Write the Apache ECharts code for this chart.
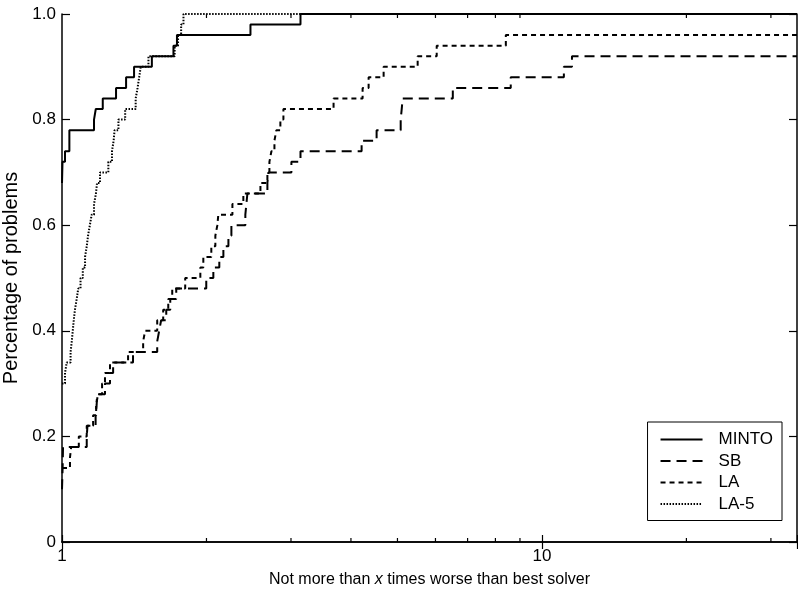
<!DOCTYPE html>
<html lang="en">
<head>
<meta charset="UTF-8">
<title>Performance profile</title>
<script src="https://cdn.jsdelivr.net/npm/echarts@6/dist/echarts.min.js"></script>
<style>
  html, body { margin: 0; padding: 0; background: #fff; }
  #chart { width: 798px; height: 594px; }
</style>
</head>
<body>
<div id="chart"></div>
<script>
  // ratios to the best solver (x) and share of problems solved (y)
  const seriesNames = ['MINTO', 'SB', 'LA', 'LA-5'];

  const mintoPoints = [
    [1, 0.68], [1.0024, 0.72], [1.0145, 0.74], [1.036, 0.78], [1.166, 0.80], [1.176, 0.82],
    [1.216, 0.84], [1.296, 0.86], [1.36, 0.88], [1.413, 0.90], [1.539, 0.92], [1.707, 0.94],
    [1.736, 0.96], [2.47, 0.98], [3.14, 1.0]
  ];

  const sbPoints = [
    [1, 0.10], [1.003, 0.14], [1.004, 0.16], [1.005, 0.18], [1.126, 0.20], [1.13, 0.22],
    [1.175, 0.24], [1.181, 0.26], [1.183, 0.28], [1.229, 0.30], [1.259, 0.32], [1.278, 0.34],
    [1.406, 0.36], [1.579, 0.38], [1.594, 0.40], [1.609, 0.42], [1.649, 0.44], [1.681, 0.46],
    [1.73, 0.48], [1.998, 0.50], [2.067, 0.52], [2.127, 0.54], [2.169, 0.56], [2.222, 0.58],
    [2.254, 0.60], [2.41, 0.62], [2.422, 0.64], [2.434, 0.66], [2.679, 0.68], [2.692, 0.70],
    [3.006, 0.72], [3.14, 0.74], [4.21, 0.76], [4.524, 0.78], [5.078, 0.80], [5.103, 0.82],
    [5.127, 0.84], [6.521, 0.86], [8.61, 0.88], [11.11, 0.90], [11.55, 0.92]
  ];

  const laPoints = [
    [1, 0.14], [1.039, 0.16], [1.045, 0.18], [1.084, 0.20], [1.126, 0.22], [1.161, 0.24],
    [1.178, 0.26], [1.189, 0.28], [1.212, 0.30], [1.229, 0.32], [1.259, 0.34], [1.373, 0.36],
    [1.476, 0.38], [1.49, 0.40], [1.579, 0.42], [1.625, 0.44], [1.665, 0.46], [1.697, 0.48],
    [1.806, 0.50], [1.942, 0.52], [1.97, 0.54], [2.047, 0.56], [2.087, 0.58], [2.107, 0.60],
    [2.117, 0.62], [2.265, 0.64], [2.387, 0.66], [2.591, 0.68], [2.679, 0.70], [2.705, 0.72],
    [2.731, 0.74], [2.771, 0.76], [2.797, 0.78], [2.851, 0.80], [2.893, 0.82], [3.68, 0.84],
    [4.23, 0.86], [4.354, 0.88], [4.679, 0.90], [5.509, 0.92], [6.036, 0.94], [8.41, 0.96]
  ];

  const la5Points = [
    [1, 0.30], [1.0145, 0.32], [1.023, 0.34], [1.042, 0.36], [1.048, 0.38], [1.053, 0.40],
    [1.058, 0.42], [1.064, 0.44], [1.073, 0.46], [1.081, 0.48], [1.093, 0.50], [1.105, 0.52],
    [1.117, 0.54], [1.126, 0.56], [1.133, 0.58], [1.143, 0.60], [1.153, 0.62], [1.166, 0.64],
    [1.177, 0.66], [1.183, 0.68], [1.2, 0.70], [1.249, 0.72], [1.271, 0.74], [1.281, 0.76],
    [1.287, 0.78], [1.311, 0.80], [1.354, 0.82], [1.424, 0.84], [1.437, 0.86], [1.448, 0.88],
    [1.459, 0.90], [1.514, 0.92], [1.717, 0.94], [1.745, 0.96], [1.771, 0.98], [1.791, 1.0]
  ];

  const xMax = 34;
  const xLabelValues = [1, 10];
  const minorTickValues = [2, 3, 4, 5, 6, 7, 8, 9, 20, 30];

  const FONT = "'Liberation Sans', Arial, Helvetica, sans-serif";
  const INK = '#000';

  // carry the last level on to the right edge
  function withTail(points) {
    const last = points[points.length - 1];
    return points.concat([[xMax, last[1]]]);
  }

  function stepSeries(name, points, dash, width) {
    return {
      name: name,
      type: 'line',
      step: 'end',
      symbol: 'none',
      data: withTail(points),
      lineStyle: { color: INK, width: width, type: dash },
      itemStyle: { color: INK },
      emphasis: { disabled: true },
      animation: false
    };
  }

  const chart = echarts.init(document.getElementById('chart'));

  const xAxisBase = {
    type: 'log',
    logBase: 10,
    min: 1,
    max: xMax,
    splitLine: { show: false },
    axisLine: { lineStyle: { color: INK, width: 1.5 } },
    axisTick: { inside: true, length: 7, lineStyle: { color: INK, width: 1.2 } }
  };

  const yAxisBase = {
    type: 'value',
    min: 0,
    max: 1,
    interval: 0.2,
    splitLine: { show: false },
    axisLine: { show: true, lineStyle: { color: INK, width: 1.5 } },
    axisTick: { show: true, inside: true, length: 8, lineStyle: { color: INK, width: 1.2 } }
  };

  const option = {
    backgroundColor: '#fff',
    animation: false,
    grid: { left: 62, right: 1, top: 14, bottom: 52, containLabel: false, outerBoundsMode: 'none' },
    legend: {
      data: seriesNames,
      orient: 'vertical',
      right: 16,
      top: 422,
      padding: [9, 9, 8, 12],
      itemWidth: 42,
      itemHeight: 12,
      itemGap: 4.5,
      borderColor: INK,
      borderWidth: 1,
      borderRadius: 0,
      backgroundColor: '#fff',
      selectedMode: false,
      itemStyle: { opacity: 0 },
      textStyle: { fontFamily: FONT, fontSize: 17, color: INK, padding: [0, 0, 0, 11] }
    },
    xAxis: [
      Object.assign({}, xAxisBase, {
        position: 'bottom',
        axisLabel: {
          margin: 6,
          fontFamily: FONT,
          fontSize: 17,
          color: INK,
          formatter: v => xLabelValues.some(t => Math.abs(t - v) < 1e-6) ? String(Math.round(v)) : ''
        },
        name: 'Not more than {i|x} times worse than best solver',
        nameLocation: 'middle',
        nameGap: 30,
        nameTextStyle: {
          fontFamily: FONT, fontSize: 16, color: INK,
          rich: { i: { fontFamily: FONT, fontSize: 16, color: INK, fontStyle: 'italic' } }
        }
      }),
      Object.assign({}, xAxisBase, {
        position: 'top',
        axisLabel: { show: false }
      })
    ],
    yAxis: [
      Object.assign({}, yAxisBase, {
        position: 'left',
        axisLabel: {
          margin: 6,
          fontFamily: FONT,
          fontSize: 17,
          color: INK,
          formatter: v => v === 0 ? '0' : v.toFixed(1)
        },
        name: 'Percentage of problems',
        nameLocation: 'middle',
        nameGap: 36,
        nameTextStyle: { fontFamily: FONT, fontSize: 20, color: INK }
      }),
      Object.assign({}, yAxisBase, {
        position: 'right',
        axisLabel: { show: false }
      })
    ],
    series: [
      stepSeries('MINTO', mintoPoints, 'solid', 2),
      stepSeries('SB', sbPoints, [10, 6], 2),
      stepSeries('LA', laPoints, [5, 4], 2),
      stepSeries('LA-5', la5Points, [1.5, 1.5], 2),
      {
        // minor ticks of the log axis, top and bottom
        type: 'custom',
        xAxisIndex: 0,
        yAxisIndex: 0,
        silent: true,
        animation: false,
        data: minorTickValues.map(v => [v, 0]),
        encode: { x: 0, y: 1 },
        renderItem: function (params, api) {
          const v = api.value(0);
          const b = api.coord([v, 0]);
          const t = api.coord([v, 1]);
          const style = { stroke: INK, lineWidth: 1.2 };
          return {
            type: 'group',
            children: [
              { type: 'line', shape: { x1: b[0], y1: b[1], x2: b[0], y2: b[1] - 4 }, style: style },
              { type: 'line', shape: { x1: t[0], y1: t[1], x2: t[0], y2: t[1] + 4 }, style: style }
            ]
          };
        }
      }
    ]
  };

  chart.setOption(option);
</script>
</body>
</html>
